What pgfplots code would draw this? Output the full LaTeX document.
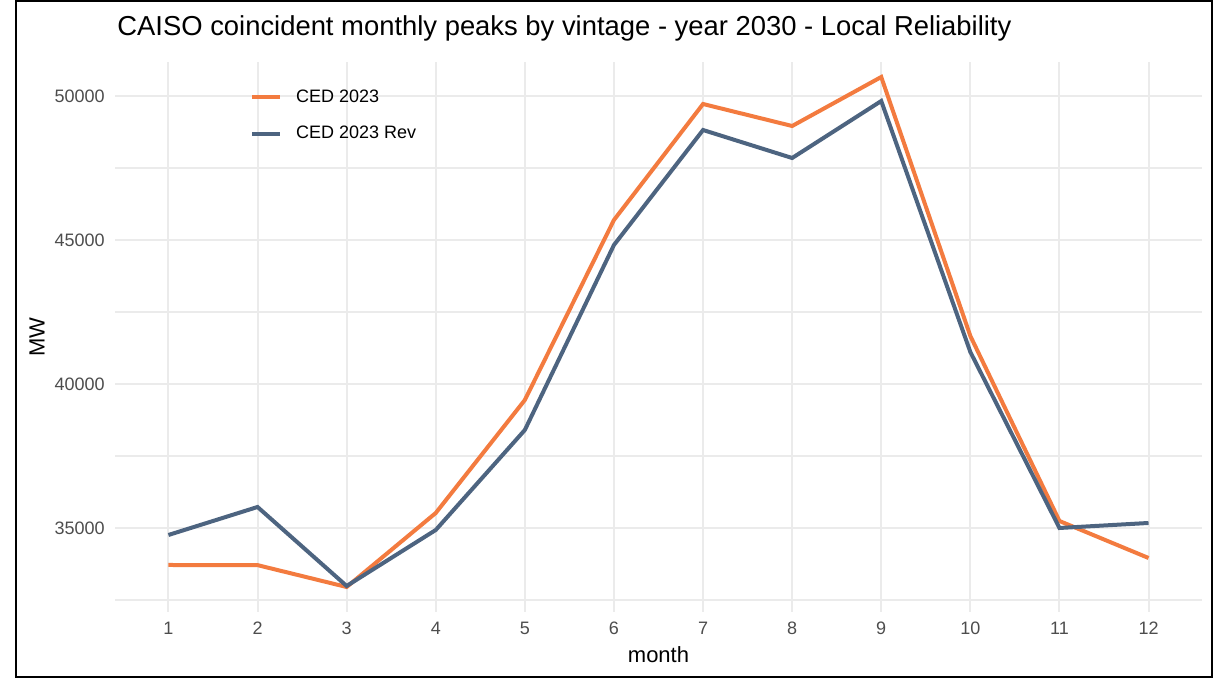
\documentclass[border=0pt]{standalone}
\usepackage{fontspec}
\setmainfont{Liberation Sans}
\usepackage{pgfplots}
\pgfplotsset{compat=1.18}
\definecolor{cedorange}{RGB}{243,123,63}
\definecolor{cedblue}{RGB}{77,100,128}
\definecolor{gridgrey}{RGB}{235,235,235}
\definecolor{ticktext}{RGB}{77,77,77}
\begin{document}
\begin{tikzpicture}
\path[use as bounding box] (0pt,0pt) rectangle (608pt,339pt);
\draw[black, line width=1pt] (8pt,0.5pt) rectangle (606pt,338.5pt);
\begin{axis}[
  at={(57.5pt,33pt)}, anchor=south west,
  scale only axis, width=543.5pt, height=275pt,
  xmin=0.4, xmax=12.6, ymin=32083, ymax=51181,
  xtick={1,...,12},
  ytick={35000,40000,45000,50000},
  minor ytick={32500,37500,42500,47500},
  scaled y ticks=false,
  /pgf/number format/assume math mode=true,
  yticklabel={\pgfmathprintnumber[fixed,1000 sep={}]{\tick}},
  xmajorgrids, ymajorgrids, yminorgrids,
  major grid style={gridgrey, line width=1pt},
  minor grid style={gridgrey, line width=0.8pt},
  major tick length=0pt, minor tick length=0pt,
  axis line style={draw=none},
  tick label style={ticktext, font=\fontsize{9}{10}\selectfont, inner sep=0pt},
  yticklabel style={xshift=-5pt},
  xticklabel style={yshift=-5pt},
  title={CAISO coincident monthly peaks by vintage - year 2030 - Local Reliability},
  title style={at={(axis description cs:0,1)}, anchor=west, inner sep=0pt, xshift=1pt, yshift=11pt, font=\fontsize{13.7}{16}\selectfont},
  xlabel={month},
  xlabel style={at={(axis description cs:0.5,-0.078)}, anchor=center, inner sep=0pt, font=\fontsize{11}{13}\selectfont},
  ylabel={MW},
  ylabel style={at={(axis description cs:-0.0718,0.5)}, anchor=center, rotate=0, inner sep=0pt, font=\fontsize{11}{13}\selectfont},
  legend cell align=left,
  legend image code/.code={\draw[#1, line width=2pt] (0pt,0pt) -- (14pt,0pt);},
  legend style={draw=none, fill=none, at={(axis description cs:0.1185,0.965)}, anchor=north west,
    font=\fontsize{9}{11}\selectfont, row sep=6.5pt,
    nodes={inner sep=2pt},
    /tikz/every odd column/.append style={column sep=5pt}},
]
\addplot[cedorange, line width=2pt] coordinates {
  (1,33715) (2,33710) (3,32951) (4,35521) (5,39444) (6,45694)
  (7,49722) (8,48958) (9,50660) (10,41667) (11,35243) (12,33958)};
\addlegendentry{CED 2023}
\addplot[cedblue, line width=2pt] coordinates {
  (1,34757) (2,35729) (3,32986) (4,34931) (5,38403) (6,44826)
  (7,48819) (8,47847) (9,49826) (10,41111) (11,35000) (12,35174)};
\addlegendentry{CED 2023 Rev}
\end{axis}
\end{tikzpicture}
\end{document}
